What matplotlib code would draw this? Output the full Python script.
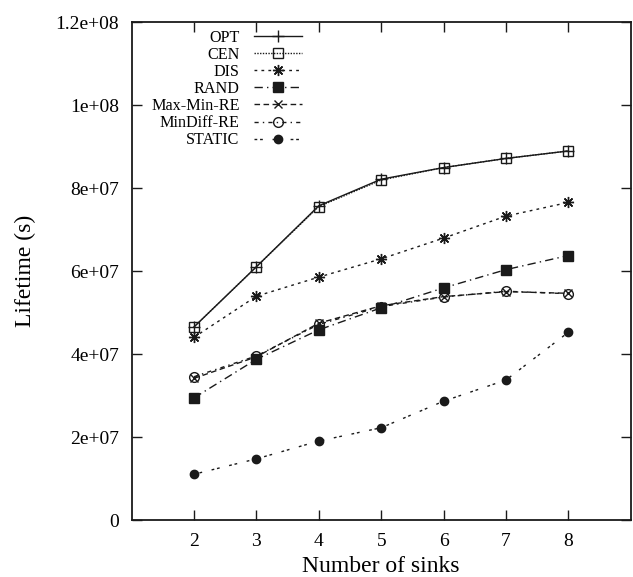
import matplotlib
matplotlib.use("Agg")
import matplotlib.pyplot as plt

plt.rcParams['font.family'] = ['Liberation Serif', 'DejaVu Serif']

sinks = [2, 3, 4, 5, 6, 7, 8]
opt = [4.66e7, 6.11e7, 7.58e7, 8.22e7, 8.50e7, 8.72e7, 8.90e7]
cen = [4.66e7, 6.11e7, 7.56e7, 8.20e7, 8.50e7, 8.72e7, 8.90e7]
dis = [4.41e7, 5.40e7, 5.86e7, 6.30e7, 6.80e7, 7.33e7, 7.66e7]
rand = [2.95e7, 3.88e7, 4.59e7, 5.12e7, 5.60e7, 6.04e7, 6.38e7]
maxmin = [3.42e7, 3.94e7, 4.75e7, 5.17e7, 5.39e7, 5.51e7, 5.47e7]
mindiff = [3.46e7, 3.96e7, 4.72e7, 5.15e7, 5.38e7, 5.52e7, 5.46e7]
static = [1.11e7, 1.48e7, 1.91e7, 2.23e7, 2.87e7, 3.38e7, 4.53e7]

labels = ['OPT', 'CEN', 'DIS', 'RAND', 'Max-Min-RE', 'MinDiff-RE', 'STATIC']
yticks = [0, 2e7, 4e7, 6e7, 8e7, 1e8, 1.2e8]
ytick_labels = ['0', '2e+07', '4e+07', '6e+07', '8e+07', '1e+08', '1.2e+08']

fig = plt.figure(figsize=(6.33, 5.77), dpi=100)
ax = fig.add_axes([0.208, 0.0983, 0.7884, 0.863])

c = '#1a1a1a'
lw = 1.0
styles = [
    dict(ls='-', marker='+', ms=8, mfc='none'),
    dict(ls=(0, (1, 1)), marker='s', ms=6.5, mfc='none'),
    dict(ls=(0, (2, 3)), marker=(8, 2, 0), ms=8, mfc='none'),
    dict(ls=(0, (6, 3, 1, 3)), marker='s', ms=7, mfc=c),
    dict(ls=(0, (4, 2.5)), marker='x', ms=6, mfc='none'),
    dict(ls=(0, (3, 3, 1, 3)), marker='o', ms=7, mfc='none'),
    dict(ls=(0, (2, 2, 2, 7)), marker='o', ms=6, mfc=c),
]
series = [opt, cen, dis, rand, maxmin, mindiff, static]
for data, lab, st in zip(series, labels, styles):
    ax.plot(sinks, data, color=c, lw=lw, mec=c, mew=1.0, label=lab, **st)

ax.set_xlim(1, 9)
ax.set_ylim(0, 1.2e8)
ax.set_xticks(sinks)
ax.set_xticklabels([str(s) for s in sinks])
ax.set_yticks(yticks)
ax.set_yticklabels(ytick_labels)
ax.tick_params(direction='in', length=7, width=1, top=True, right=True,
               labelsize=14, color=c, pad=9)
for sp in ax.spines.values():
    sp.set_linewidth(1.3)
    sp.set_color(c)

ax.set_xlabel('Number of sinks', fontsize=17, labelpad=4.5)
ax.set_ylabel('Lifetime (s)', fontsize=17, labelpad=14)

leg = ax.legend(loc='upper right', bbox_to_anchor=(0.341, 0.9855), markerfirst=False,
                frameon=False, fontsize=11.6, handlelength=3.0, handletextpad=0.87,
                labelspacing=0.07, borderpad=0, borderaxespad=0)

fig.savefig('out.png', dpi=100)
